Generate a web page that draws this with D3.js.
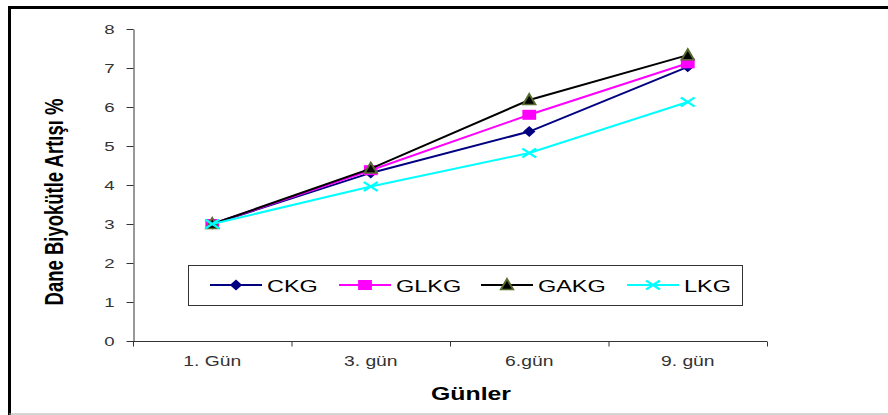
<!DOCTYPE html>
<html>
<head>
<meta charset="utf-8">
<script src="https://cdn.jsdelivr.net/npm/d3@7"></script>
<style>
  body { margin: 0; background: #fff; }
  svg { display: block; font-family: "Liberation Sans", Arial, sans-serif; }
</style>
</head>
<body>
<svg id="chart" width="888" height="415"></svg>
<script>
// categories and series values
const days = ["1. Gün", "3. gün", "6.gün", "9. gün"];
const seriesNames = ["CKG", "GLKG", "GAKG", "LKG"];
const ckg  = [3, 4.31, 5.37, 7.03];
const glkg = [3, 4.38, 5.80, 7.12];
const gakg = [3, 4.42, 6.18, 7.33];
const lkg  = [3, 3.96, 4.82, 6.13];
const yTicks = [0, 1, 2, 3, 4, 5, 6, 7, 8];

// the original picture is stretched sideways, so glyphs get widened
const SX = 1.38

const series = [
  {name: seriesNames[0], values: ckg,  color: "#000080", marker: "diamond"},
  {name: seriesNames[1], values: glkg, color: "#ff00ff", marker: "square"},
  {name: seriesNames[2], values: gakg, color: "#000000", marker: "triangle"},
  {name: seriesNames[3], values: lkg,  color: "#00ffff", marker: "cross"}
]

const svg = d3.select("svg#chart")

// outer frame
svg.append("line").attr("x1", 9.5).attr("x2", 9.5).attr("y1", 6).attr("y2", 415)
   .attr("stroke", "#000").attr("stroke-width", 3)
svg.append("line").attr("x1", 8).attr("x2", 888).attr("y1", 7.5).attr("y2", 7.5)
   .attr("stroke", "#000").attr("stroke-width", 3)
svg.append("line").attr("x1", 9).attr("x2", 888).attr("y1", 414).attr("y2", 414)
   .attr("stroke", "#aaa").attr("stroke-width", 1)

const x = d3.scaleBand().domain(days).range([133, 767])
const y = d3.scaleLinear().domain([0, 8]).range([341, 29])

// y axis
const yAxis = svg.append("g").attr("transform", "translate(133.5,0)")
  .call(d3.axisLeft(y).tickValues(yTicks).tickSize(7).tickSizeOuter(0).tickPadding(0))
yAxis.selectAll("line, path").attr("stroke", "#333")
yAxis.selectAll("text")
  .attr("font-size", 13.5).attr("fill", "#333")
  .attr("font-family", "Liberation Sans, Arial, sans-serif")
  .attr("x", -19 / SX)
  .attr("transform", `scale(${SX},1)`)

// x axis
const xAxis = svg.append("g").attr("transform", "translate(0,341.5)")
  .call(d3.axisBottom(x).tickSize(0).tickPadding(0))
xAxis.select("path").attr("stroke", "#333").attr("d", "M133,0H767")
xAxis.selectAll("text")
  .attr("font-size", 14).attr("fill", "#333")
  .attr("font-family", "Liberation Sans, Arial, sans-serif")
  .attr("dy", null).attr("y", 24.5)
  .attr("transform", `scale(${SX},1)`)
// category boundary ticks
const bounds = days.map(d => x(d)).concat([x.range()[1]])
xAxis.selectAll("line.bound").data(bounds).join("line")
  .attr("class", "bound")
  .attr("x1", d => d + 0.5).attr("x2", d => d + 0.5)
  .attr("y1", 0).attr("y2", 5).attr("stroke", "#333")

// axis titles
svg.append("text")
  .attr("transform", `translate(63,202) rotate(-90) scale(1,${SX})`)
  .attr("text-anchor", "middle")
  .attr("font-size", 18.5).attr("font-weight", "bold")
  .text("Dane Biyokütle Artışı %")
svg.append("text")
  .attr("transform", `translate(471,400) scale(${SX},1)`)
  .attr("text-anchor", "middle")
  .attr("font-size", 18).attr("font-weight", "bold")
  .text("Günler")

const cx = d => x(d) + x.bandwidth() / 2

function drawMarker(g, type, color) {
  const m = g.append("g").attr("transform", `scale(${SX},1)`)
  if (type === "diamond") {
    m.append("path").attr("d", "M0,-5.5L4.5,0L0,5.5L-4.5,0Z")
      .attr("fill", color)
  } else if (type === "square") {
    m.append("rect").attr("x", -5).attr("y", -5).attr("width", 10).attr("height", 10)
      .attr("fill", color)
  } else if (type === "triangle") {
    m.append("path").attr("d", "M0,-6L4.5,4.5L-4.5,4.5Z")
      .attr("fill", "#000").attr("stroke", "#556b2f").attr("stroke-width", 1.5)
  } else {
    m.append("path").attr("d", "M-5,-4.5L5,4.5M-5,4.5L5,-4.5")
      .attr("stroke", color).attr("stroke-width", 2).attr("fill", "none")
  }
}

const line = d3.line().x(d => cx(d.day)).y(d => y(d.v))

series.forEach(s => {
  const pts = days.map((d, i) => ({day: d, v: s.values[i]}))
  svg.append("path").datum(pts)
    .attr("d", line).attr("fill", "none")
    .attr("stroke", s.color).attr("stroke-width", 2)
  pts.forEach(p => {
    const g = svg.append("g").attr("transform", `translate(${cx(p.day)},${y(p.v)})`)
    drawMarker(g, s.marker, s.color)
  })
})

// legend
svg.append("rect").attr("x", 188.5).attr("y", 265.5).attr("width", 554).attr("height", 40)
  .attr("fill", "#fff").attr("stroke", "#333").attr("stroke-width", 1)
const legendX = [210, 339, 481, 627]
series.forEach((s, i) => {
  const lx = legendX[i]
  svg.append("line").attr("x1", lx).attr("x2", lx + 52).attr("y1", 285).attr("y2", 285)
    .attr("stroke", s.color).attr("stroke-width", 2)
  const g = svg.append("g").attr("transform", `translate(${lx + 26},285)`)
  drawMarker(g, s.marker, s.color)
  svg.append("text")
    .attr("transform", `translate(${lx + 57},291.5) scale(${SX},1)`)
    .attr("font-size", 17).attr("fill", "#000").text(s.name)
})
</script>
</body>
</html>
